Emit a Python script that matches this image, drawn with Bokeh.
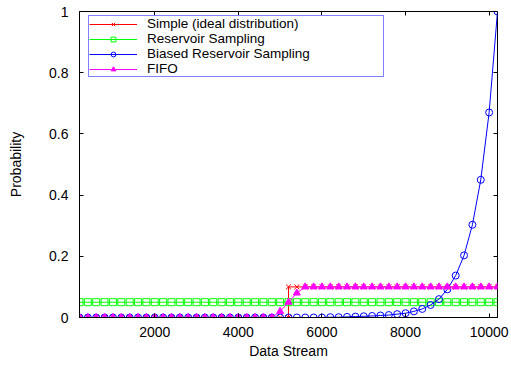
from bokeh.plotting import figure
from bokeh.models import Range1d, FixedTicker, LinearAxis, Legend, LegendItem
from bokeh.embed import file_html
from bokeh.resources import INLINE

# Stream positions at which each sampling scheme was evaluated
stream_x = [200, 400, 600, 800, 1000, 1200, 1400, 1600, 1800, 2000,
            2200, 2400, 2600, 2800, 3000, 3200, 3400, 3600, 3800, 4000,
            4200, 4400, 4600, 4800, 5000, 5200, 5400, 5600, 5800, 6000,
            6200, 6400, 6600, 6800, 7000, 7200, 7400, 7600, 7800, 8000,
            8200, 8400, 8600, 8800, 9000, 9200, 9400, 9600, 9800, 10000,
            10200]

# Ideal distribution: a step at 5200 (the point is listed twice to get the vertical edge)
simple_x = [200, 400, 600, 800, 1000, 1200, 1400, 1600, 1800, 2000,
            2200, 2400, 2600, 2800, 3000, 3200, 3400, 3600, 3800, 4000,
            4200, 4400, 4600, 4800, 5000, 5200, 5200, 5400, 5600, 5800,
            6000, 6200, 6400, 6600, 6800, 7000, 7200, 7400, 7600, 7800,
            8000, 8200, 8400, 8600, 8800, 9000, 9200, 9400, 9600, 9800,
            10000, 10200]
simple_y = [0, 0, 0, 0, 0, 0, 0, 0, 0, 0,
            0, 0, 0, 0, 0, 0, 0, 0, 0, 0,
            0, 0, 0, 0, 0, 0, 0.1, 0.1, 0.1, 0.1,
            0.1, 0.1, 0.1, 0.1, 0.1, 0.1, 0.1, 0.1, 0.1, 0.1,
            0.1, 0.1, 0.1, 0.1, 0.1, 0.1, 0.1, 0.1, 0.1, 0.1,
            0.1, 0.1]

reservoir_y = [0.05, 0.05, 0.05, 0.05, 0.05, 0.05, 0.05, 0.05, 0.05, 0.05,
               0.05, 0.05, 0.05, 0.05, 0.05, 0.05, 0.05, 0.05, 0.05, 0.05,
               0.05, 0.05, 0.05, 0.05, 0.05, 0.05, 0.05, 0.05, 0.05, 0.05,
               0.05, 0.05, 0.05, 0.05, 0.05, 0.05, 0.05, 0.05, 0.05, 0.05,
               0.05, 0.05, 0.05, 0.05, 0.05, 0.05, 0.05, 0.05, 0.05, 0.05,
               0.05]

biased_y = [0, 0, 0, 0, 0, 0, 0, 0, 0, 0,
            0, 0, 0, 0, 0, 0, 0, 0, 0, 0,
            0, 0, 0, 0, 0, 0, 0, 0, 0, 0,
            0.001, 0.001, 0.002, 0.003, 0.004, 0.005, 0.0065, 0.008, 0.011, 0.014,
            0.02, 0.028, 0.041, 0.06, 0.092, 0.137, 0.203, 0.303, 0.45, 0.67,
            1.0]

fifo_y = [0, 0, 0, 0, 0, 0, 0, 0, 0, 0,
          0, 0, 0, 0, 0, 0, 0, 0, 0, 0,
          0, 0, 0, 0, 0.02, 0.05, 0.08, 0.1, 0.1, 0.1,
          0.1, 0.1, 0.1, 0.1, 0.1, 0.1, 0.1, 0.1, 0.1, 0.1,
          0.1, 0.1, 0.1, 0.1, 0.1, 0.1, 0.1, 0.1, 0.1, 0.1,
          0.1]

x_ticks = [2000, 4000, 6000, 8000, 10000]
y_ticks = [0, 0.2, 0.4, 0.6, 0.8, 1]
y_tick_labels = {0: "0", 0.2: "0.2", 0.4: "0.4", 0.6: "0.6", 0.8: "0.8", 1: "1"}

FONT = "Liberation Sans"
FS = "14px"

p = figure(width=511, height=365, output_backend="svg", toolbar_location=None,
           x_range=Range1d(200, 10200), y_range=Range1d(0, 1),
           min_border_left=79, min_border_right=14, min_border_top=11,
           min_border_bottom=48)
p.background_fill_color = "white"
p.border_fill_color = "white"
p.outline_line_color = "black"
p.outline_line_width = 1
p.xgrid.visible = False
p.ygrid.visible = False

for ax, ticks in ((p.xaxis[0], x_ticks), (p.yaxis[0], y_ticks)):
    ax.ticker = FixedTicker(ticks=ticks)
    ax.major_tick_in = 4
    ax.major_tick_out = 0
    ax.minor_tick_in = 0
    ax.minor_tick_out = 0
    ax.axis_line_color = "black"
    ax.major_label_text_font = FONT
    ax.major_label_text_font_size = FS
    ax.major_label_text_color = "black"
    ax.axis_label_text_font = FONT
    ax.axis_label_text_font_size = FS
    ax.axis_label_text_font_style = "normal"
    ax.axis_label_text_color = "black"

p.xaxis[0].axis_label = "Data Stream"
p.xaxis[0].major_label_standoff = 9
p.xaxis[0].axis_label_standoff = 3
p.yaxis[0].axis_label = "Probability"
p.yaxis[0].major_label_standoff = 11
p.yaxis[0].axis_label_standoff = 22
p.yaxis[0].major_label_overrides = y_tick_labels

# mirrored tick marks on the top and right borders (no labels drawn there)
for loc, ticks in (("above", x_ticks), ("right", y_ticks)):
    mirror = LinearAxis(ticker=FixedTicker(ticks=ticks))
    mirror.major_tick_in = 4
    mirror.major_tick_out = 0
    mirror.minor_tick_in = 0
    mirror.minor_tick_out = 0
    mirror.axis_line_color = None
    mirror.major_label_text_font_size = "1px"
    mirror.major_label_text_color = None
    mirror.major_label_standoff = 0
    p.add_layout(mirror, loc)

MS = 7
r_line = p.line(simple_x, simple_y, line_color="#ff0000", line_width=1)
r_pts = p.scatter(simple_x, simple_y, marker="x", size=MS, line_color="#ff0000", line_width=1)
g_line = p.line(stream_x, reservoir_y, line_color="#00ff00", line_width=1)
g_pts = p.scatter(stream_x, reservoir_y, marker="square", size=MS, line_color="#00ff00",
                  fill_color=None, line_width=1)
b_line = p.line(stream_x, biased_y, line_color="#0000ff", line_width=1)
b_pts = p.scatter(stream_x, biased_y, marker="circle", size=MS, line_color="#0000ff",
                  fill_color=None, line_width=1)
m_line = p.line(stream_x, fifo_y, line_color="#ff00ff", line_width=1)
m_pts = p.scatter(stream_x, fifo_y, marker="triangle", size=MS, line_color="#ff00ff",
                  fill_color="#ff00ff", line_width=1)

legend = Legend(items=[
    LegendItem(label="Simple (ideal distribution)", renderers=[r_line, r_pts]),
    LegendItem(label="Reservoir Sampling", renderers=[g_line, g_pts]),
    LegendItem(label="Biased Reservoir Sampling", renderers=[b_line, b_pts]),
    LegendItem(label="FIFO", renderers=[m_line, m_pts]),
])
legend.location = (9, 240)
legend.border_line_color = "#0000ff"
legend.border_line_width = 1
legend.background_fill_color = "white"
legend.background_fill_alpha = 1
legend.padding = 0
legend.spacing = 0
legend.margin = 0
legend.glyph_width = 48
legend.glyph_height = 12
legend.label_height = 12
legend.label_width = 236
legend.label_standoff = 10
legend.label_text_font = FONT
legend.label_text_font_size = "13.5px"
legend.label_text_color = "black"
legend.label_text_line_height = 1.0
p.add_layout(legend, "center")

open("out.html", "w").write(file_html(p, INLINE))
